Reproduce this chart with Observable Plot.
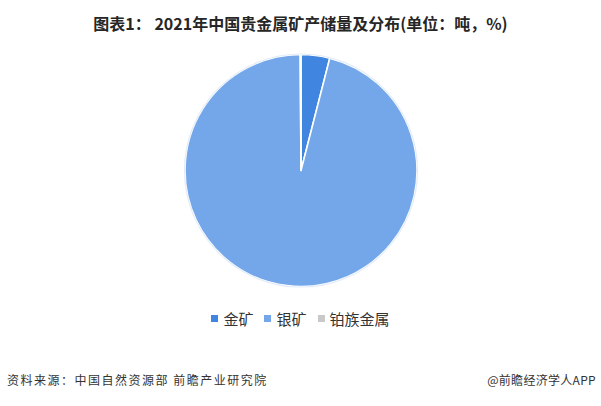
<!DOCTYPE html>
<html>
<head>
<meta charset="utf-8">
<script src="https://cdn.jsdelivr.net/npm/d3@7"></script>
<script src="https://cdn.jsdelivr.net/npm/@observablehq/plot@0.6"></script>
<style>
  html, body { margin: 0; padding: 0; background: #fff; }
  #wrap { position: relative; width: 601px; height: 406px; overflow: hidden; font-family: "Noto Sans CJK SC", "Noto Sans", sans-serif; }
  #title { position: absolute; left: 0; top: 12px; width: 601px; text-align: center; font-size: 16px; line-height: 22px; font-weight: 700; color: #262626; }
  #chart { position: absolute; left: 0; top: 40px; }
  #legend { position: absolute; left: 0; top: 308px; width: 601px; display: flex; justify-content: center; font-size: 15px; line-height: 21px; color: #333; }
  #legend .item { display: flex; align-items: center; margin: 0 5.5px; }
  #legend .sw { width: 7px; height: 7px; margin-right: 5px; }
  #src { position: absolute; left: 7px; top: 371px; font-size: 12px; line-height: 18px; color: #333; letter-spacing: 1.5px; }
  #app { position: absolute; right: 5px; top: 371px; font-size: 12px; line-height: 18px; color: #333; letter-spacing: 0.3px; }
</style>
</head>
<body>
<div id="wrap">
  <div id="title">图表1： 2021年中国贵金属矿产储量及分布(单位：吨，%)</div>
  <div id="chart"></div>
  <div id="legend"></div>
  <div id="src">资料来源：中国自然资源部 前瞻产业研究院</div>
  <div id="app">@前瞻经济学人APP</div>
</div>
<script>
// Data
const categories = ["金矿", "银矿", "铂族金属"];
const reserves = [2964.37, 71277.42, 80];
const colors = ["#4085E0", "#74A7EA", "#C9C9C9"];

const data = categories.map((name, i) => ({name, value: reserves[i]}));
const colorScale = d3.scaleOrdinal(categories, colors);

// Pie mark drawn in Plot's x/y coordinate system (domain [-1, 1])
function pieMark(index, scales) {
  const cx = scales.x(0), cy = scales.y(0);
  const r = Math.abs(scales.x(1) - scales.x(0));
  const arcs = d3.pie().sort(null).value(d => d.value)(data);
  const arc = d3.arc().innerRadius(0).outerRadius(r);
  const g = d3.create("svg:g").attr("transform", `translate(${cx},${cy})`);
  g.selectAll("path").data(arcs).join("path")
    .attr("d", arc)
    .attr("fill", d => colorScale(d.data.name))
    .attr("stroke", "#fff")
    .attr("stroke-width", 1.6)
    .attr("stroke-linejoin", "round");
  g.append("circle").attr("r", r + 0.5).attr("fill", "none").attr("stroke", "#e3ecf8").attr("stroke-width", 1.2);
  return g.node();
}

const W = 601, H = 260, R = 116, CX = 301, CY = 130.5;
const plot = Plot.plot({
  width: W,
  height: H,
  marginLeft: CX - R,
  marginRight: W - CX - R,
  marginTop: CY - R,
  marginBottom: H - CY - R,
  x: {domain: [-1, 1], axis: null},
  y: {domain: [-1, 1], axis: null},
  style: {background: "transparent"},
  marks: [
    Plot.dot([[-1, -1], [1, 1]], {x: d => d[0], y: d => d[1], r: 0}),
    pieMark
  ]
});
document.getElementById("chart").appendChild(plot);

// Legend
const legend = d3.select("#legend");
categories.forEach(c => {
  const it = legend.append("div").attr("class", "item");
  it.append("div").attr("class", "sw").style("background", colorScale(c));
  it.append("span").text(c);
});
</script>
</body>
</html>
